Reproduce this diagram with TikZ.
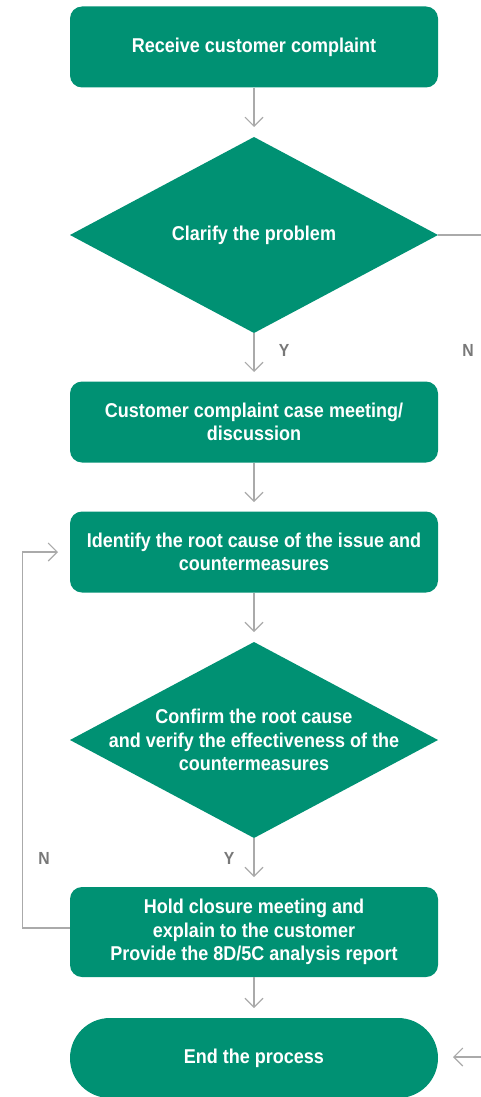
\documentclass[tikz,border=0pt]{standalone}
\usepackage{fontspec}
\setmainfont{Liberation Sans}[FakeStretch=0.9]
\usetikzlibrary{arrows.meta}
\definecolor{teal}{RGB}{0,145,115}
\definecolor{conn}{RGB}{170,170,170}
\definecolor{lab}{RGB}{120,120,120}
\begin{document}
\begin{tikzpicture}[x=1pt,y=-1pt,
  box/.style={draw=none,fill=teal,rounded corners=12pt,minimum width=368pt,minimum height=81pt,inner sep=0pt,
    text=white,font=\bfseries\fontsize{20}{23.5}\selectfont,align=center},
  dtext/.style={inner sep=0pt,text=white,font=\bfseries\fontsize{20}{23.5}\selectfont,align=center},
  arr/.style={draw=conn,line width=1.1pt,-{Straight Barb[length=9pt,width=18pt,line width=1.1pt]}},
  ln/.style={draw=conn,line width=1.1pt},
  yn/.style={text=lab,font=\bfseries\fontsize{17.5}{20}\selectfont,inner sep=0pt}]
\useasboundingbox (0,0) rectangle (480,1097);
\node[box] (b1) at (254,47) {Receive customer complaint};

\coordinate (d1n) at (254,137);
\coordinate (d1e) at (438,235);
\coordinate (d1s) at (254,333);
\coordinate (d1w) at (70,235);
\fill[teal] (d1n) -- (d1e) -- (d1s) -- (d1w) -- cycle;
\node[dtext] (d1) at (254,235) {Clarify the problem};

\node[box] (b2) at (254,422) {Customer complaint case meeting/\\discussion};
\node[box] (b3) at (254,552) {Identify the root cause of the issue and\\countermeasures};

\coordinate (d2n) at (254,642);
\coordinate (d2e) at (438,740);
\coordinate (d2s) at (254,838);
\coordinate (d2w) at (70,740);
\fill[teal] (d2n) -- (d2e) -- (d2s) -- (d2w) -- cycle;
\node[dtext] (d2) at (254,740) {Confirm the root cause\\and verify the effectiveness of the\\countermeasures};

\node[box,minimum height=90pt] (b4) at (254,932) {Hold closure meeting and\\explain to the customer\\Provide the 8D/5C analysis report};
\node[box,rounded corners=40pt,minimum height=80pt] (b5) at (254,1058) {End the process};

\coordinate (t1) at (254,127);
\coordinate (t2) at (254,372);
\coordinate (t3) at (254,502);
\coordinate (t4) at (254,632);
\coordinate (t5) at (254,877);
\coordinate (t6) at (254,1008);
\draw[arr] (b1.south) -- (t1);
\draw[arr] (d1s) -- (t2);
\draw[arr] (b2.south) -- (t3);
\draw[arr] (b3.south) -- (t4);
\draw[arr] (d2s) -- (t5);
\draw[arr] (b4.south) -- (t6);

\coordinate (rEdge) at (481,235);
\draw[ln] (d1e) -- (rEdge);
\coordinate (rEnd) at (481,1057);
\coordinate (rTip) at (453,1057);
\draw[arr] (rEnd) -- (rTip);

\coordinate (lb) at (22.5,928);
\coordinate (lt) at (22.5,552);
\coordinate (lTip) at (58,552);
\draw[arr] (b4.west |- lb) -- (lb) -- (lt) -- (lTip);

\node[yn] (y1) at (284,350) {Y};
\node[yn] (n1) at (468,350) {N};
\node[yn] (n2) at (44,858) {N};
\node[yn] (y2) at (229,858) {Y};
\end{tikzpicture}
\end{document}
